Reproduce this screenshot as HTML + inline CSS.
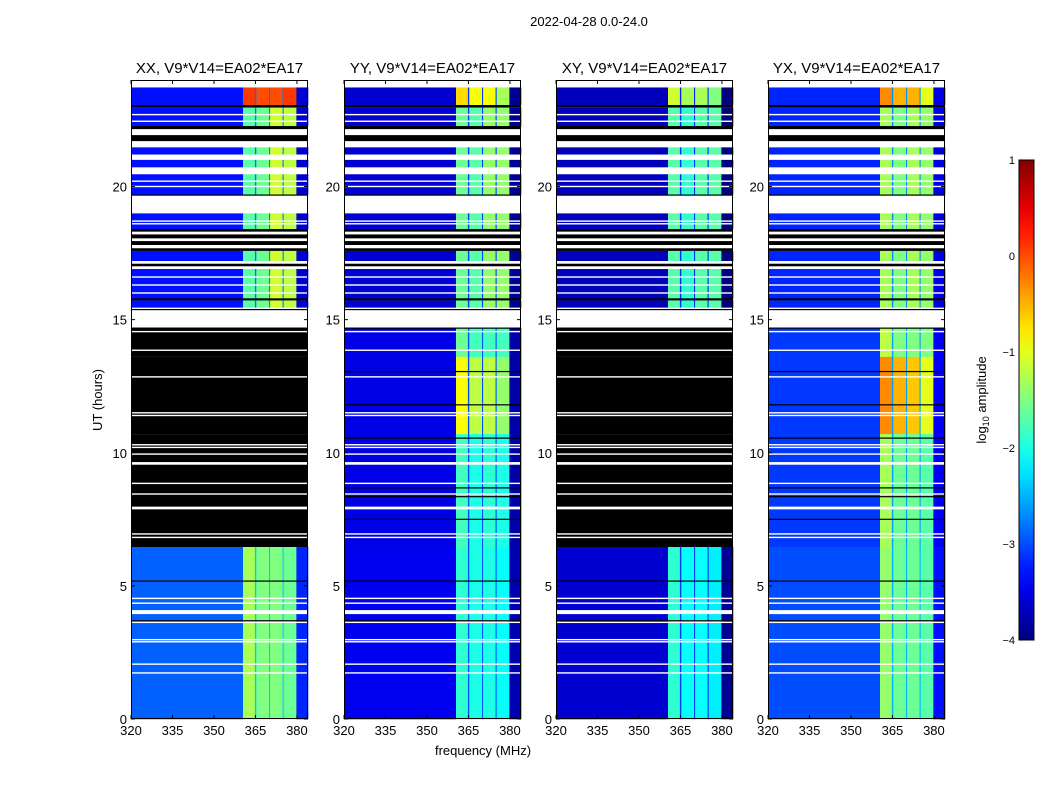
<!DOCTYPE html>
<html><head><meta charset="utf-8"><style>
body{margin:0;background:#fff;}
svg text{font-family:"Liberation Sans",sans-serif;}
</style></head><body>
<svg id="fig" width="1050" height="800" xmlns="http://www.w3.org/2000/svg">
<defs><linearGradient id="jet" x1="0" y1="1" x2="0" y2="0"></linearGradient></defs>
<text x="589" y="26" font-size="13" text-anchor="middle">2022-04-28 0.0-24.0</text>
<text x="0" y="0" font-size="13" text-anchor="middle" transform="translate(102,400) rotate(-90)">UT (hours)</text>
<text x="483" y="755" font-size="13" text-anchor="middle">frequency (MHz)</text>
<g id="panels"></g>
<g id="cbar"></g>
</svg>
<script>
// ---- data ----
const panelTitles = ["XX, V9*V14=EA02*EA17","YY, V9*V14=EA02*EA17","XY, V9*V14=EA02*EA17","YX, V9*V14=EA02*EA17"];
const xTicks = [320,335,350,365,380];
const yTicks = [0,5,10,15,20];
const cbarTicks = [1,0,-1,-2,-3,-4];
// time segments [startHour, endHour, kind, region]; kind F=flagged, K=zero, D=data
const segments = [
 [23.72,24,"F",0],[23.06,23.72,"D",0],[22.96,23.06,"K",0],[22.27,22.96,"D",1],[22.15,22.27,"K",1],
 [21.93,22.15,"F",1],[21.7,21.93,"K",1],[21.47,21.7,"F",1],[21.2,21.47,"D",1],[21.0,21.2,"F",1],
 [20.72,21.0,"D",1],[20.46,20.72,"F",1],[19.7,20.46,"D",1],[19.65,19.7,"K",1],[18.99,19.65,"F",1],
 [18.4,18.99,"D",1],[18.3,18.4,"K",1],[18.2,18.3,"F",1],[18.05,18.2,"K",1],[17.95,18.05,"F",1],
 [17.8,17.95,"K",1],[17.68,17.8,"F",1],[17.58,17.68,"K",1],[17.2,17.58,"D",1],[17.1,17.2,"F",1],
 [17.0,17.1,"K",1],[16.9,17.0,"F",1],[15.8,16.9,"D",1],[15.72,15.8,"K",1],[15.45,15.72,"D",1],
 [15.4,15.45,"F",1],[15.35,15.4,"K",1],[14.7,15.35,"F",1],
 [13.6,14.7,"D",2],[10.7,13.6,"D",3],[6.46,10.7,"D",4],[0,6.46,"D",5]
];
const whiteLines = [22.7,22.45,20.2,20.0,18.7,18.6,16.6,16.3,16.0,14.55,13.85,12.85,11.5,11.4,10.3,10.2,9.95,8.85,8.45,7.95,7.9,6.95,6.82,4.53,4.35,3.63,2.98,2.9,2.06,1.73];
const whiteBands = [[9.55,9.65],[3.94,4.09]];
const blackLines = [14.68,13.05,11.8,10.55,8.68,8.35,7.5,5.18,3.69];
// log10 amplitude per panel per region (null => zeros / black)
const bgVals = [
 [-3.3,-3.3,null,null,null,-2.9],
 [-3.6,-3.6,-3.5,-3.5,-3.5,-3.45],
 [-3.7,-3.7,null,null,null,-3.6],
 [-3.2,-3.2,-3.1,-3.1,-3.1,-3.0]
];
const bandVals = [
 [[0.1,0.0,0.0,0.1],[-1.7,-1.6,-1.1,-1.2],null,null,null,[-1.3,-1.5,-1.5,-1.6]],
 [[-0.7,-0.9,-0.9,-1.3],[-1.6,-1.7,-1.4,-1.4],[-1.6,-1.8,-1.8,-1.8],[-0.9,-1.2,-1.2,-1.4],[-1.8,-2.0,-1.9,-2.0],[-1.9,-2.0,-2.0,-2.1]],
 [[-1.1,-1.3,-1.3,-1.5],[-1.7,-1.9,-1.7,-1.7],null,null,null,[-1.9,-2.1,-2.1,-2.2]],
 [[-0.3,-0.5,-0.5,-1.0],[-1.3,-1.5,-1.3,-1.4],[-1.2,-1.5,-1.5,-1.5],[-0.3,-0.5,-0.6,-1.0],[-1.3,-1.6,-1.6,-1.7],[-1.4,-1.6,-1.6,-1.7]]
];
// frequency column edges (MHz) and role
const freqEdges = [320,360.5,364.8,365.3,369.9,370.3,374.8,375.2,379.8,384];
const freqRole = ["bg","band0","gap","band1","gap","band2","gap","band3","edge"];

// ---- layout ----
const panelX = [131,344,556,768], PW = 177, PT = 80, PB = 719;
const NS = "http://www.w3.org/2000/svg";
function yOf(h){return PB - (h/24)*(PB-PT);}
function mk(tag, attrs, parent){const e=document.createElementNS(NS,tag);for(const k in attrs)e.setAttribute(k,attrs[k]);parent.appendChild(e);return e;}
function jet(v){ // v log10 amplitude in [-4,1]
  let x=Math.max(0,Math.min(1,(v+4)/5));
  const c=t=>Math.round(255*Math.max(0,Math.min(1,1.5-Math.abs(t))));
  return `rgb(${c(4*x-3)},${c(4*x-2)},${c(4*x-1)})`;
}
const panels=document.getElementById('panels');
panelTitles.forEach((title,p)=>{
  const x0=panelX[p];
  const xOf=f=>x0+(f-320)/(384-320)*PW;
  const g=mk('g',{},panels);
  
  
  segments.forEach(s=>{
    const [t0,t1,kind,reg]=s;
    const y1=yOf(t1), hgt=yOf(t0)-y1;
    if(kind!=="D"||bgVals[p][reg]===null){
      const r=mk('rect',{x:x0,y:y1,width:PW,height:hgt,fill:kind==="F"?"#fff":"#000"},g);
      
      
      return;
    }
    const bg=bgVals[p][reg], bands=bandVals[p][reg];
    for(let i=0;i<freqRole.length;i++){
      const role=freqRole[i];
      let v=bg;
      if(role==="gap")v=bg+0.5;
      else if(role==="edge")v=bg-0.3;
      else if(role.startsWith("band"))v=bands[+role.slice(4)];
      const xa=xOf(freqEdges[i]), xb=xOf(freqEdges[i+1]);
      const r=mk('rect',{x:xa,y:y1,width:xb-xa+0.3,height:hgt+0.3,fill:jet(v)},g);
      
      
    }
  });
  whiteLines.forEach(h=>{const r=mk('rect',{x:x0,y:yOf(h)-0.7,width:PW,height:1.4,fill:"#fff"},g);
    
    });
  whiteBands.forEach(b=>{const r=mk('rect',{x:x0,y:yOf(b[1]),width:PW,height:yOf(b[0])-yOf(b[1]),fill:"#fff"},g);
    
    });
  blackLines.forEach(h=>{const r=mk('rect',{x:x0,y:yOf(h)-0.6,width:PW,height:1.2,fill:"#000"},g);
    
    });
  const fr=mk('rect',{x:x0+0.5,y:PT+0.5,width:PW-1,height:PB-PT-1,fill:"none",stroke:"#000","stroke-width":1},g);
  
  
  const tt=mk('text',{x:x0+PW/2,y:73,"font-size":15,"text-anchor":"middle"},g);tt.textContent=title;
  
  
  xTicks.forEach(f=>{const x=xOf(f);
    mk('line',{x1:x,y1:PB,x2:x,y2:PB-4,stroke:"#000"},g);mk('line',{x1:x,y1:PT,x2:x,y2:PT+4,stroke:"#000"},g);
    const t=mk('text',{x:x,y:PB+16,"font-size":13,"text-anchor":"middle"},g);t.textContent=f;
    
    });
  yTicks.forEach(h=>{const y=yOf(h);
    mk('line',{x1:x0,y1:y,x2:x0+4,y2:y,stroke:"#000"},g);mk('line',{x1:x0+PW,y1:y,x2:x0+PW-4,y2:y,stroke:"#000"},g);
    const t=mk('text',{x:x0-4,y:y+5,"font-size":13,"text-anchor":"end"},g);t.textContent=h;
    
    });
});
// colorbar
const grad=document.getElementById('jet');
for(let i=0;i<=20;i++){mk('stop',{offset:(i/20),"stop-color":jet(-4+5*i/20)},grad);}
const cb=document.getElementById('cbar');
const CX=1019,CW=15,CT=160,CB=640;
const cr=mk('rect',{x:CX,y:CT,width:CW,height:CB-CT,fill:"url(#jet)",stroke:"#000"},cb);


cbarTicks.forEach(v=>{const y=CB-(v+4)/5*(CB-CT);
  const t=mk('text',{x:CX-4,y:y+4,"font-size":11,"text-anchor":"end"},cb);t.textContent=v===0?"0":(v<0?"\u2212"+(-v):v);
  
  });
const cl=mk('text',{x:0,y:0,"font-size":13,"text-anchor":"middle",transform:"translate(986,400) rotate(-90)"},cb);
cl.innerHTML='log<tspan font-size="9" dy="3">10</tspan><tspan dy="-3"> amplitude</tspan>';


</script>
</body></html>
